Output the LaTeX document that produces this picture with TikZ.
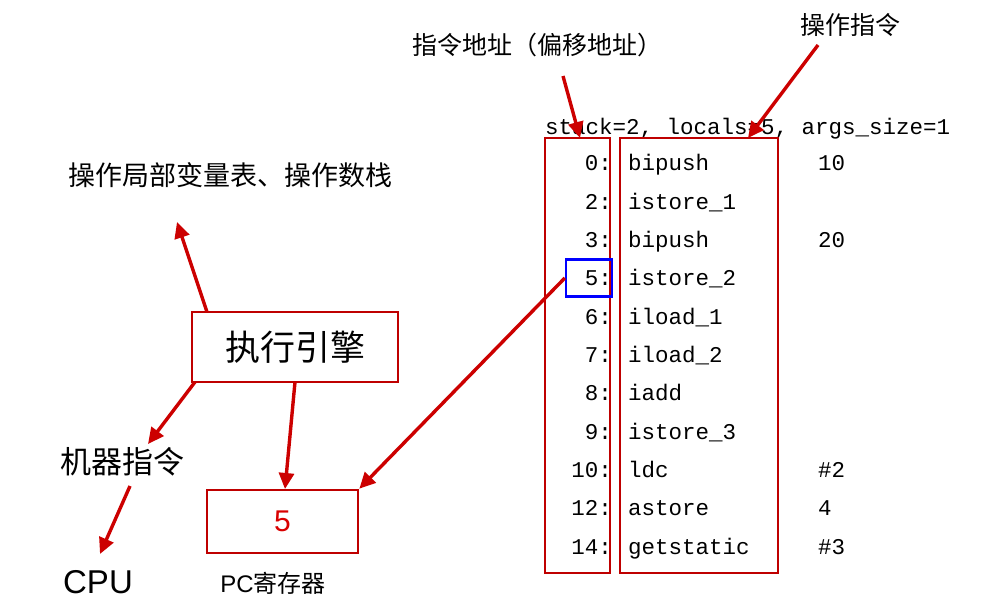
\documentclass[tikz,border=0pt]{standalone}
\usepackage{fontspec}
\setmainfont{Liberation Sans}
\setmonofont{Liberation Mono}
\newfontfamily\cjk{Noto Sans CJK SC}
\usetikzlibrary{arrows.meta}
\begin{document}
\begin{tikzpicture}[x=1pt,y=-1pt,
  redbox/.style={draw=red!75!black,line width=2.6pt},
  arr/.style={draw=red!80!black,line width=3.4pt,-{Triangle[length=16pt,width=15pt]}},
  lbl/.style={font=\cjk\fontsize{25}{27}\selectfont},
  code/.style={font=\ttfamily\fontsize{22.5}{24}\selectfont,inner sep=0pt}]
\useasboundingbox (0,0) rectangle (1008,607);
\node[lbl] (addr) at (537,45) {指令地址（偏移地址）};
\node[lbl] (op) at (850,25) {操作指令};
\node[code,anchor=base west] (hdr) at (545,134) {stack=2, locals=5, args\_size=1};
\draw[redbox] (545,138) rectangle (610,573);
\draw[redbox] (620,138) rectangle (778,573);
\coordinate (lt) at (580,138);
\coordinate (rt) at (748,138);
\foreach \y/\a/\i/\o [count=\k] in {163/0/bipush/10,202/2/istore\_1/,240/3/bipush/20,278/5/istore\_2/,317/6/iload\_1/,355/7/iload\_2/,393/8/iadd/,432/9/istore\_3/,470/10/ldc/\#2,508/12/astore/4,547/14/getstatic/\#3}{
  \node[code,anchor=base east] (a\k) at (612,\y+7) {\a:};
  \node[code,anchor=base west] (i\k) at (628,\y+7) {\i};
  \node[code,anchor=base west] (o\k) at (818,\y+7) {\o};
}
\node[draw=blue,line width=2.4pt,minimum width=46pt,minimum height=37pt] (blue) at (589,278) {};
\node[lbl,font=\cjk\fontsize{27}{29}\selectfont] (lv) at (230,175) {操作局部变量表、操作数栈};
\node[redbox,minimum width=206pt,minimum height=70pt,font=\cjk\fontsize{35}{37}\selectfont] (eng) at (295,347) {执行引擎};
\node[lbl,font=\cjk\fontsize{31}{33}\selectfont] (mi) at (122,462) {机器指令};
\node[font=\fontsize{33}{35}\selectfont] (cpu) at (98,582) {CPU};
\node[redbox,minimum width=151pt,minimum height=63pt,text=red!85!black,font=\fontsize{30}{32}\selectfont] (pc) at (282.5,521.5) {5};
\node[font=\fontsize{24}{26}\selectfont] (pcl) at (273,583) {PC{\cjk 寄存器}};
\draw[arr] (207,312) -- (177,222);
\draw[arr] (195,382) -- (148,444);
\draw[arr] (295,382) -- (285,489);
\draw[arr] (blue.west) -- (pc.north east);
\draw[arr] (130,486) -- (100,554);
\draw[arr] (563,76) -- (lt);
\draw[arr] (818,45) -- (rt);
\end{tikzpicture}
\end{document}
